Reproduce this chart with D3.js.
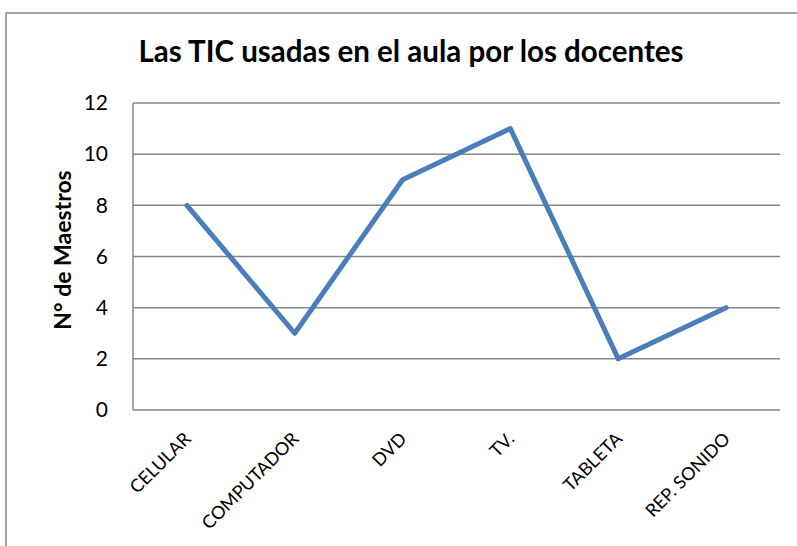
<!DOCTYPE html>
<html>
<head>
<meta charset="utf-8">
<script src="https://cdn.jsdelivr.net/npm/d3@7"></script>
<style>
  body { margin: 0; background: #fff; }
  svg { display: block; }
</style>
</head>
<body>
<svg id="chart" width="797" height="546"></svg>
<script>
const categories = ['CELULAR', 'COMPUTADOR', 'DVD', 'TV.', 'TABLETA', 'REP. SONIDO'];
const teachers = [8, 3, 9, 11, 2, 4];
const yTicks = [0, 2, 4, 6, 8, 10, 12];

const svg = d3.select('#chart');
const width = 797, height = 546;
const margin = { top: 103, right: 17, bottom: 136, left: 133 };
const plotW = width - margin.left - margin.right;
const plotH = height - margin.top - margin.bottom;

// chart area border (runs off the right and bottom edges)
svg.append('rect')
  .attr('x', 6).attr('y', 13)
  .attr('width', 820).attr('height', 560)
  .attr('fill', '#fff')
  .attr('stroke', '#868686')
  .attr('stroke-width', 1.5);

svg.append('text')
  .attr('x', 411).attr('y', 62)
  .attr('text-anchor', 'middle')
  .attr('font-family', 'Lato, sans-serif')
  .attr('font-weight', 'bold')
  .attr('font-size', 29.5)
  .text('Las TIC usadas en el aula por los docentes');

const g = svg.append('g').attr('transform', `translate(${margin.left},${margin.top})`);

const x = d3.scaleBand().domain(categories).range([0, plotW]);
const y = d3.scaleLinear().domain([0, 12]).range([plotH, 0]);

// gridlines
g.append('g')
  .selectAll('line')
  .data(yTicks)
  .join('line')
  .attr('x1', 0).attr('x2', plotW)
  .attr('y1', d => y(d)).attr('y2', d => y(d))
  .attr('stroke', '#868686')
  .attr('stroke-width', 1.5);

// axis lines
g.append('line')
  .attr('x1', 0).attr('x2', 0)
  .attr('y1', 0).attr('y2', plotH)
  .attr('stroke', '#868686').attr('stroke-width', 1.5);

const yAxis = g.append('g')
  .call(d3.axisLeft(y).tickValues(yTicks).tickSize(0).tickPadding(25));
yAxis.select('.domain').remove();
yAxis.selectAll('text')
  .attr('font-family', 'Lato, sans-serif')
  .attr('font-size', 21)
  .attr('fill', '#000');

const xAxis = g.append('g')
  .attr('transform', `translate(0,${plotH})`)
  .call(d3.axisBottom(x).tickSize(0).tickPadding(0));
xAxis.select('.domain').remove();
xAxis.selectAll('text')
  .attr('font-family', 'Lato, sans-serif')
  .attr('font-size', 18)
  .attr('fill', '#000')
  .attr('text-anchor', 'end')
  .attr('dy', 0)
  .attr('transform', 'translate(5,30) rotate(-45)');

svg.append('text')
  .attr('transform', 'translate(71,250) rotate(-90)')
  .attr('text-anchor', 'middle')
  .attr('font-family', 'Lato, sans-serif')
  .attr('font-weight', 'bold')
  .attr('font-size', 23)
  .text('N° de Maestros');

const line = d3.line()
  .x((d, i) => x(categories[i]) + x.bandwidth() / 2)
  .y(d => y(d));

g.append('path')
  .datum(teachers)
  .attr('fill', 'none')
  .attr('stroke', '#4a7ebb')
  .attr('stroke-width', 5)
  .attr('stroke-linejoin', 'round')
  .attr('stroke-linecap', 'round')
  .attr('d', line);
</script>
</body>
</html>
